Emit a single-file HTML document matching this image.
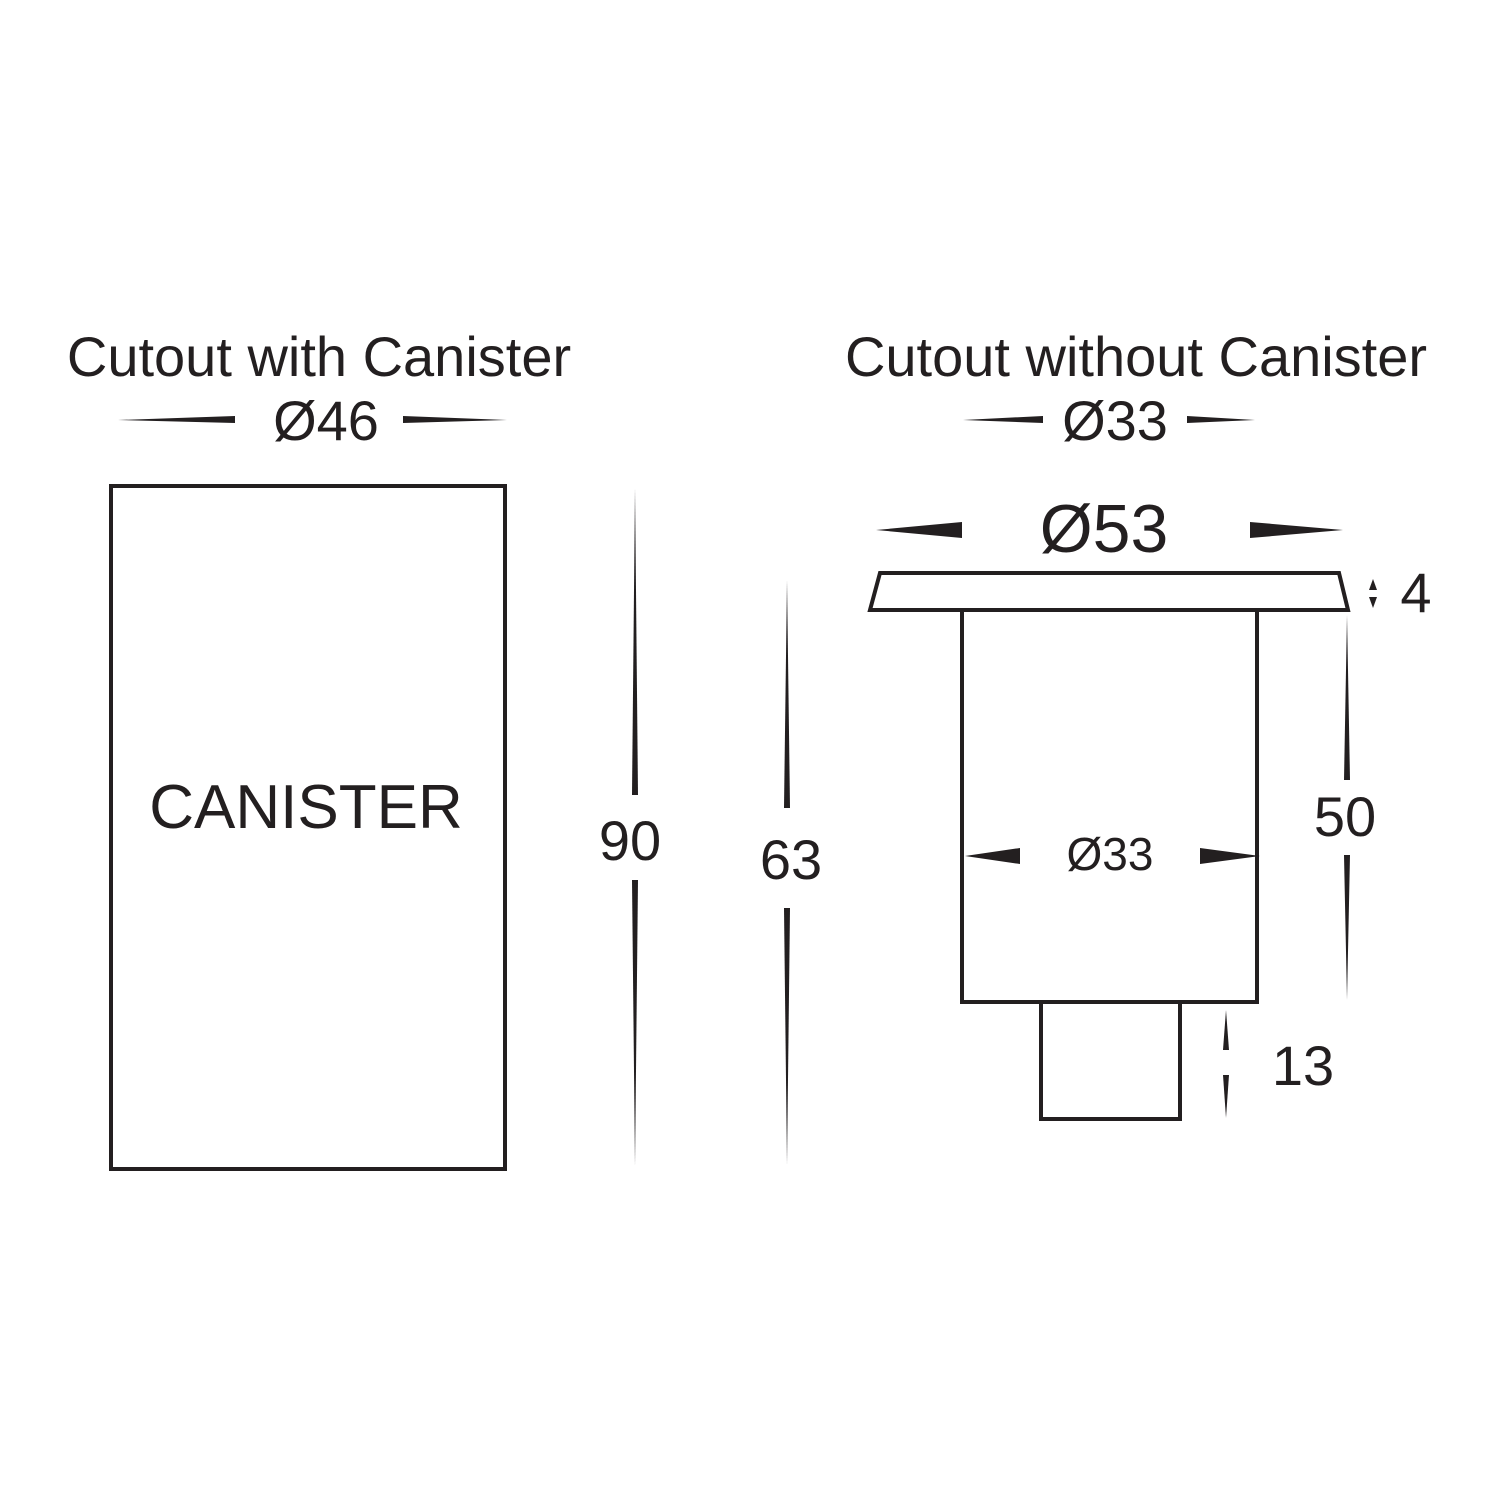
<!DOCTYPE html>
<html><head><style>
body{margin:0;background:#fff}
svg{display:block}
text{font-family:"Liberation Sans",Arial,sans-serif;fill:#231f20}
</style></head><body>
<svg width="1500" height="1500" viewBox="0 0 1500 1500" xmlns="http://www.w3.org/2000/svg">
<g fill="#231f20">
<text x="319" y="376" font-size="56" text-anchor="middle">Cutout with Canister</text>
<text x="326" y="440" font-size="56" text-anchor="middle">Ø46</text>
<polygon points="118,420 235,416 235,423"/>
<polygon points="403,416 507,420 403,423"/>
<rect x="111" y="486" width="394" height="683" fill="none" stroke="#231f20" stroke-width="4"/>
<text x="306" y="828" font-size="62" text-anchor="middle">CANISTER</text>
<polygon points="635,488 638,795 632,795"/>
<polygon points="632,880 638,880 635,1166"/>
<text x="630" y="860" font-size="56" text-anchor="middle">90</text>
<polygon points="787,580 790,808 784,808"/>
<polygon points="784,908 790,908 787,1165"/>
<text x="791" y="879" font-size="56" text-anchor="middle">63</text>
<text x="1136" y="376" font-size="56" text-anchor="middle">Cutout without Canister</text>
<text x="1115" y="440" font-size="56" text-anchor="middle">Ø33</text>
<polygon points="963,420 1043,416 1043,423"/>
<polygon points="1187,416 1255,420 1187,423"/>
<text x="1104" y="552" font-size="68" text-anchor="middle">Ø53</text>
<polygon points="876,530 962,522 962,538"/>
<polygon points="1250,522 1343,530 1250,538"/>
<polygon points="880,573 1339,573 1348,610 870,610" fill="none" stroke="#231f20" stroke-width="4"/>
<rect x="962" y="610" width="295" height="392" fill="none" stroke="#231f20" stroke-width="4"/>
<rect x="1041" y="1002" width="139" height="117" fill="none" stroke="#231f20" stroke-width="4"/>
<text x="1110" y="870" font-size="46" text-anchor="middle">Ø33</text>
<polygon points="965,856 1020,848 1020,864"/>
<polygon points="1200,848 1260,856 1200,864"/>
<text x="1416" y="612" font-size="56" text-anchor="middle">4</text>
<polygon points="1373,579 1377,590 1369,590"/>
<polygon points="1369,597 1377,597 1373,608"/>
<polygon points="1347,615 1350,780 1344,780"/>
<polygon points="1344,855 1350,855 1347,1000"/>
<text x="1345" y="836" font-size="56" text-anchor="middle">50</text>
<polygon points="1226,1010 1229,1050 1223,1050"/>
<polygon points="1223,1075 1229,1075 1226,1118"/>
<text x="1303" y="1085" font-size="56" text-anchor="middle">13</text>
</g>
</svg>
</body></html>
